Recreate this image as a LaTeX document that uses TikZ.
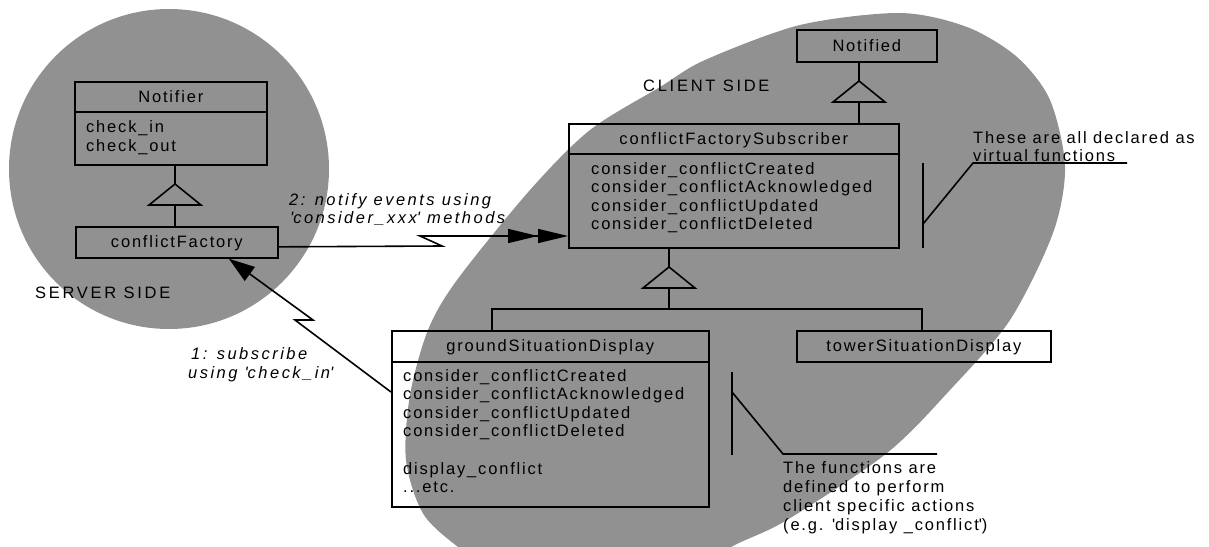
\documentclass[tikz,border=0pt]{standalone}
\usepackage{fontspec}
\setmainfont{Liberation Sans}[LetterSpace=11,Ligatures=NoCommon,
  ItalicFeatures={LetterSpace=15}]
\usetikzlibrary{arrows.meta}
\definecolor{zone}{RGB}{145,145,145}
\newcommand{\sq}{\textquotesingle}
\begin{document}
\begin{tikzpicture}[x=1pt,y=-1pt,
  every node/.style={inner sep=0pt, font=\fontsize{16.5}{18.6}\selectfont},
  classbox/.style={draw, line width=1.7pt, rectangle, anchor=north west,
    text height=14pt, text depth=3pt},
  txt/.style={anchor=base west},
  sidetxt/.style={anchor=base west, font=\fontsize{16.5}{18.6}\selectfont\addfontfeatures{LetterSpace=16.5}},
  itxt/.style={anchor=base west, font=\fontsize{16.5}{18.6}\selectfont\itshape},
  conn/.style={line width=1.6pt, line join=miter},
  gentri/.pic={\draw[conn] (0,0) -- (-26,21) -- (26,21) -- cycle;},
  headA/.style={-{Triangle[length=26pt,width=17pt]}},
  headB/.style={-{Triangle[length=30pt,width=14pt]Triangle[length=30pt,width=14pt]}}]

\useasboundingbox (0,0) rectangle (1209,546);

% server and client zones
\begin{scope}
  \clip (0,0) rectangle (1209,546);
  \fill[zone] (169,169) circle[radius=160pt];
  \fill[zone] plot[smooth cycle] coordinates {
    (457,280) (530,190) (590,130) (660,87) (705,60) (800,25) (900,13)
    (967,27) (1017,57) (1050,100) (1065,167) (1053,233) (1010,320)
    (950,390) (887,453) (787,520) (733,546) (680,578) (600,598)
    (520,588) (466,553) (424,515) (406,460) (410,395) (428,330)};
\end{scope}

\node[sidetxt] (server) at (35,298) {SERVER SIDE};
\node[sidetxt] (client) at (643,91) {CLIENT SIDE};

% Notifier / conflictFactory
\node[classbox, minimum width=192pt, minimum height=30pt] (notifierHead) at (74,81) {Notifier};
\node[classbox, minimum width=192pt, minimum height=53pt] (notifierBody) at (74,111) {};
\node[txt] (nb1) at (86,132) {check\_in};
\node[txt] (nb2) at (86,151) {check\_out};
\node[classbox, minimum width=202pt, minimum height=31pt] (factory) at (75,226) {conflictFactory};

\coordinate (genA) at (175,184);
\draw[conn] (genA |- notifierBody.south) -- (genA);
\pic at (genA) {gentri};
\draw[conn] ([yshift=-21pt]genA) -- (genA |- factory.north);

% Notified / conflictFactorySubscriber
\node[classbox, minimum width=140pt, minimum height=32pt] (notified) at (796,29) {Notified};
\node[classbox, minimum width=330pt, minimum height=30pt] (subHead) at (568,123) {conflictFactorySubscriber};
\node[classbox, minimum width=330pt, minimum height=94pt] (subBody) at (568,153) {};
\foreach \t [count=\i from 0] in {consider\_conflictCreated, consider\_conflictAcknowledged,
    consider\_conflictUpdated, consider\_conflictDeleted}
  \node[txt] (sb\i) at (591,174+18.6*\i) {\t};

\coordinate (genB) at (859,81);
\draw[conn] (genB |- notified.south) -- (genB);
\pic at (genB) {gentri};
\draw[conn] ([yshift=-21pt]genB) -- (genB |- subHead.north);

% groundSituationDisplay / towerSituationDisplay
\node[classbox, minimum width=317pt, minimum height=31pt] (gsdHead) at (391,330) {groundSituationDisplay};
\node[classbox, minimum width=317pt, minimum height=145pt] (gsdBody) at (391,361) {};
\foreach \t [count=\i from 0] in {consider\_conflictCreated, consider\_conflictAcknowledged,
    consider\_conflictUpdated, consider\_conflictDeleted}
  \node[txt] (gb\i) at (403,381+18.6*\i) {\t};
\node[txt] (gb4) at (403,474) {display\_conflict};
\node[txt] (gb5) at (403,492.6) {...etc.};
\node[classbox, minimum width=254pt, minimum height=31pt] (tower) at (796,330) {towerSituationDisplay};

\coordinate (genC) at (669,267);
\coordinate (bar) at (669,309);
\draw[conn] (genC |- subBody.south) -- (genC);
\pic at (genC) {gentri};
\draw[conn] ([yshift=-21pt]genC) -- (bar);
\draw[conn] ([xshift=101pt]gsdHead.north west) |- (bar);
\draw[conn] ([xshift=126pt]tower.north west) |- (bar);

% 2: notify events
\coordinate (nz1) at (442,246);
\coordinate (nz2) at (420,236);
\draw[conn, headB] ([yshift=-4.5pt]factory.east) -- (nz1) -- (nz2) -- (subBody.west |- nz2);
\node[itxt] (lab2a) at (289,205) {2: notify events using};
\node[itxt] (lab2b) at (290,223) {\sq consider\_xxx\sq\ methods};

% 1: subscribe
\coordinate (sz1) at (295,320);
\coordinate (sz2) at (313,320);
\draw[conn, headA] (gsdBody.west |- 0,392) -- (sz1) -- (sz2) -- ([xshift=52pt]factory.south);
\node[itxt] (lab1a) at (191,359) {1: subscribe};
\node[itxt] (lab1b) at (188,378) {using \sq check\_in\sq};

% note on the declared functions
\node[txt] (virt1) at (973,143) {These are all declared as};
\node[txt] (virt2) at (973,161) {virtual functions};
\coordinate (vTop) at (923,163);
\coordinate (vBot) at (923,248);
\coordinate (vKnee) at (923,224);
\coordinate (vA) at (973,163);
\coordinate (vB) at (1127,163);
\draw[conn] (vTop) -- (vBot);
\draw[conn] (vKnee) -- (vA) -- (vB);

% note on the defined functions
\node[txt] (def1) at (783,473) {The functions are};
\node[txt] (def2) at (783,492) {defined to perform};
\node[txt] (def3) at (783,511) {client specific actions};
\node[txt] (def4) at (783,530) {(e.g. \sq display \_conflict\sq)};
\coordinate (dTop) at (732,372);
\coordinate (dBot) at (732,455);
\coordinate (dKnee) at (732,392);
\coordinate (dA) at (783,454);
\coordinate (dB) at (937,454);
\draw[conn] (dTop) -- (dBot);
\draw[conn] (dKnee) -- (dA) -- (dB);
\end{tikzpicture}
\end{document}
